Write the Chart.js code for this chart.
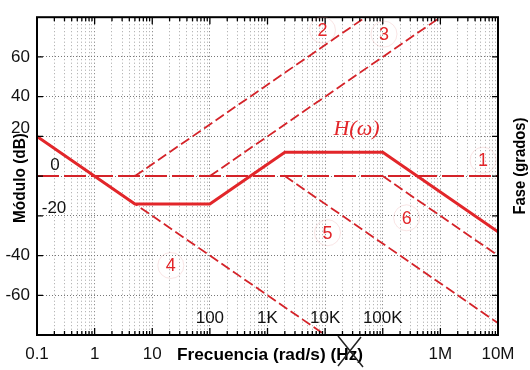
<!DOCTYPE html>
<html lang="es">
<head>
    <meta charset="UTF-8">
    <title>Diagrama de Bode - Módulo</title>
    <script src="https://cdn.jsdelivr.net/npm/chart.js"></script>
    <style>
        body { margin: 0; background: #fff; }
        .wrap { width: 530px; height: 370px; position: relative; }
    </style>
</head>
<body>
    <div class="wrap"><canvas id="bodeChart"></canvas></div>

    <script>
    // eje de frecuencias (rad/s) y eje de modulo (dB)
    const freqTicks = [0.1, 1, 10, 100, 1e3, 1e4, 1e5, 1e6, 1e7];
    const freqLabels = ['0.1', '1', '10', '100', '1K', '10K', '100K', '1M', '10M'];
    const insideFreqLabels = ['100', '1K', '10K', '100K'];
    const dbTicks = [60, 40, 20, 0, -20, -40, -60];
    const insideDbLabels = [20, 0, -20];

    // H(w) total (asintotica)
    const hFreq = [0.1, 5, 100, 2000, 1e5, 1e7];
    const hDb = [20, -14, -14, 12, 12, -28];

    // terminos individuales 1..6
    const t1Freq = [0.1, 1e7];
    const t1Db = [0, 0];
    const t2Freq = [5, 5e4];
    const t2Db = [0, 80];
    const t3Freq = [100, 1e6];
    const t3Db = [0, 80];
    const t4Freq = [0.1, 1e4];
    const t4Db = [20, -80];
    const t5Freq = [2000, 1e7];
    const t5Db = [0, -74];
    const t6Freq = [1e5, 1e7];
    const t6Db = [0, -40];

    // etiquetas de cada termino (frecuencia, dB)
    const tagText = ['1', '2', '3', '4', '5', '6'];
    const tagFreq = [5.5e6, 9e3, 1.05e5, 21, 1.1e4, 2.6e5];
    const tagDb = [8, 73.5, 71.5, -45, -28.5, -21];

    const RED = '#e2262a';
    const RED_D = '#d42329';

    function pts(f, d) {
        return f.map((v, i) => ({ x: v, y: d[i] }));
    }

    // ticks menores 1..9 por decada
    const gridFreq = [];
    for (let e = -1; e < 7; e++) {
        for (let m = 1; m < 10; m++) gridFreq.push(+(m * Math.pow(10, e)).toPrecision(3));
    }
    gridFreq.push(1e7);

    function isDecade(v) {
        const l = Math.log10(v);
        return Math.abs(l - Math.round(l)) < 1e-6;
    }

    function labelFor(v) {
        const i = freqTicks.findIndex(f => Math.abs(Math.log10(f) - Math.log10(v)) < 1e-6);
        return i < 0 ? '' : freqLabels[i];
    }

    const frame = {
        id: 'frame',
        afterDatasetsDraw(chart) {
            const { ctx, chartArea: a, scales } = chart;
            const xs = scales.x, ys = scales.y;
            ctx.save();

            // marcas hacia dentro
            ctx.strokeStyle = '#000';
            ctx.lineWidth = 1.3;
            ctx.beginPath();
            gridFreq.forEach(v => {
                const px = xs.getPixelForValue(v);
                const len = isDecade(v) ? 7 : 4;
                ctx.moveTo(px, a.bottom); ctx.lineTo(px, a.bottom - len);
                ctx.moveTo(px, a.top); ctx.lineTo(px, a.top + len);
            });
            dbTicks.forEach(v => {
                const py = ys.getPixelForValue(v);
                ctx.moveTo(a.left, py); ctx.lineTo(a.left + 6, py);
                ctx.moveTo(a.right, py); ctx.lineTo(a.right - 6, py);
            });
            ctx.stroke();

            ctx.lineWidth = 2;
            ctx.strokeRect(a.left, a.top, a.right - a.left, a.bottom - a.top);

            // etiquetas de eje que van dentro del grafico
            ctx.fillStyle = '#111';
            ctx.font = '17px "Liberation Sans", Arial, sans-serif';
            ctx.textAlign = 'center';
            ctx.textBaseline = 'middle';
            insideFreqLabels.forEach(t => {
                const v = freqTicks[freqLabels.indexOf(t)];
                ctx.fillText(t, xs.getPixelForValue(v), a.bottom - 17);
            });
            ctx.textAlign = 'right';
            ctx.fillText('20', a.left - 7, ys.getPixelForValue(20) - 8);
            ctx.textAlign = 'center';
            ctx.fillText('0', a.left + 18, ys.getPixelForValue(0) - 11);
            ctx.fillText('-20', a.left + 17, ys.getPixelForValue(-20) - 8);

            // etiquetas de los terminos
            ctx.font = '18px "Liberation Sans", Arial, sans-serif';
            tagText.forEach((t, i) => {
                const px = xs.getPixelForValue(tagFreq[i]);
                const py = ys.getPixelForValue(tagDb[i]);
                ctx.strokeStyle = 'rgba(230,150,150,0.25)';
                ctx.lineWidth = 1;
                ctx.beginPath();
                ctx.arc(px, py, 13, 0, Math.PI * 2);
                ctx.stroke();
                ctx.fillStyle = RED;
                ctx.fillText(t, px, py + 1);
            });

            ctx.font = 'italic 22px "Liberation Serif", "Times New Roman", serif';
            ctx.fillStyle = RED;
            ctx.fillText('H(\u03c9)', xs.getPixelForValue(3.5e4), ys.getPixelForValue(23.5));

            // titulos de ejes
            ctx.fillStyle = '#000';
            ctx.font = 'bold 17px "Liberation Sans", Arial, sans-serif';
            function fitText(t, cx, cy, w, rot) {
                ctx.save();
                ctx.translate(cx, cy);
                ctx.rotate(rot);
                const m = ctx.measureText(t).width;
                ctx.scale(w / m, 1);
                ctx.textAlign = 'center';
                ctx.fillText(t, 0, 0);
                ctx.restore();
            }
            fitText('Frecuencia (rad/s) (Hz)', 270, 355, 186, 0);
            fitText('Módulo (dB)', 20, 178, 90, -Math.PI / 2);
            fitText('Fase (grados)', 520, 166, 97, -Math.PI / 2);

            // Hz tachado
            ctx.strokeStyle = '#222';
            ctx.lineWidth = 1.5;
            ctx.beginPath();
            ctx.moveTo(338, 336); ctx.lineTo(363, 367);
            ctx.moveTo(361, 337); ctx.lineTo(338, 366);
            ctx.stroke();

            ctx.restore();
        }
    };

    const dashed = (f, d, dash, w) => ({
        data: pts(f, d),
        showLine: true,
        borderColor: RED_D,
        borderWidth: w,
        borderDash: dash,
        pointRadius: 0,
        fill: false
    });

    const gridColor = c => (c.tick && isDecade(c.tick.value)) ? '#777' : '#a5a5a5';

    new Chart(document.getElementById('bodeChart'), {
        type: 'scatter',
        data: {
            datasets: [
                { data: pts(hFreq, hDb), showLine: true, borderColor: RED, borderWidth: 3, pointRadius: 0, fill: false },
                dashed(t1Freq, t1Db, [22, 5], 2),
                dashed(t2Freq, t2Db, [10, 4], 1.8),
                dashed(t3Freq, t3Db, [10, 4], 1.8),
                dashed(t4Freq, t4Db, [10, 4], 1.8),
                dashed(t5Freq, t5Db, [10, 4], 1.8),
                dashed(t6Freq, t6Db, [10, 4], 1.8)
            ]
        },
        options: {
            responsive: true,
            maintainAspectRatio: false,
            animation: false,
            layout: { padding: { top: 14, right: 32, left: 0, bottom: 0 } },
            plugins: { legend: { display: false }, tooltip: { enabled: false } },
            scales: {
                x: {
                    type: 'logarithmic',
                    min: 0.1,
                    max: 1e7,
                    afterBuildTicks: s => { s.ticks = gridFreq.map(v => ({ value: v })); },
                    afterFit: s => { s.height = 35; },
                    grid: { color: gridColor, lineWidth: 1, drawTicks: false },
                    border: { display: false, dash: [1, 2.5] },
                    ticks: {
                        autoSkip: false,
                        maxRotation: 0,
                        minRotation: 0,
                        padding: 9,
                        color: '#111',
                        font: { family: '"Liberation Sans", Arial, sans-serif', size: 17 },
                        callback: v => {
                            const t = labelFor(v);
                            return insideFreqLabels.includes(t) ? '' : t;
                        }
                    }
                },
                y: {
                    min: -80,
                    max: 80,
                    afterBuildTicks: s => { s.ticks = dbTicks.map(v => ({ value: v })); },
                    afterFit: s => { s.width = 37; },
                    grid: { color: '#777', lineWidth: 1, drawTicks: false },
                    border: { display: false, dash: [1, 2] },
                    ticks: {
                        padding: 7,
                        color: '#111',
                        font: { family: '"Liberation Sans", Arial, sans-serif', size: 17 },
                        callback: v => insideDbLabels.includes(v) ? '' : String(v)
                    }
                }
            }
        },
        plugins: [frame]
    });
    </script>
</body>
</html>
